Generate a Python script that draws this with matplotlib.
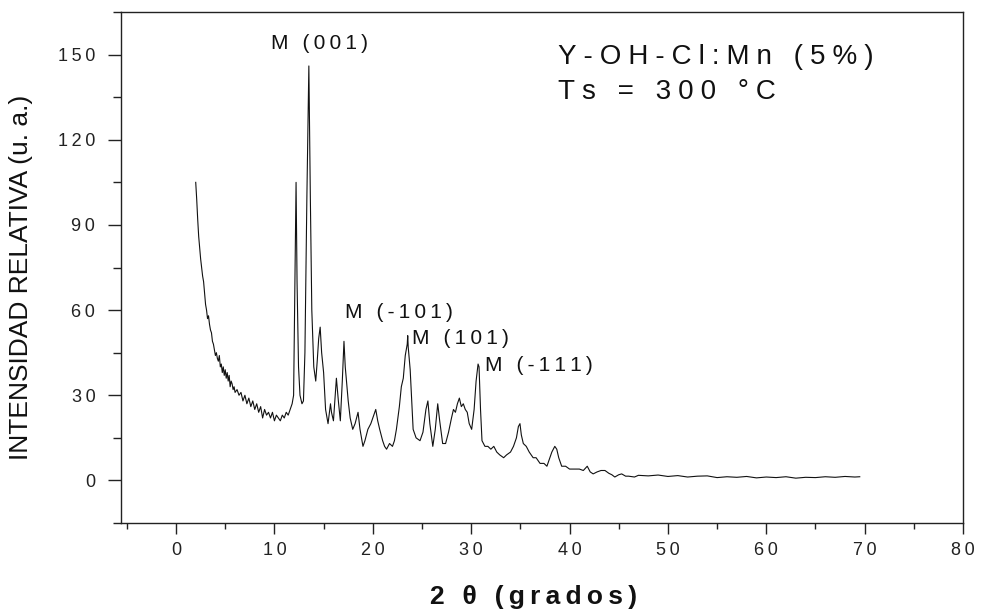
import numpy as np
import matplotlib
matplotlib.use("Agg")
import matplotlib.pyplot as plt
from matplotlib.ticker import MultipleLocator

# patrón de difracción: 2θ (grados) e intensidad relativa (u. a.)
two_theta = [
    2.0, 2.1, 2.2, 2.3, 2.4, 2.5, 2.6, 2.7, 2.8, 2.9, 3.0, 3.1, 3.2, 3.3, 3.4, 3.5,
    3.6, 3.7, 3.8, 3.9, 4.0, 4.1, 4.2, 4.3, 4.4, 4.5, 4.6, 4.7, 4.8, 4.9, 5.0, 5.1,
    5.2, 5.3, 5.4, 5.5, 5.6, 5.7, 5.8, 5.9, 6.0, 6.2, 6.4, 6.6, 6.8, 7.0, 7.2, 7.4,
    7.6, 7.8, 8.0, 8.2, 8.4, 8.6, 8.8, 9.0, 9.2, 9.4, 9.6, 9.8, 10.0, 10.2, 10.4,
    10.6, 10.8, 11.0, 11.2, 11.4, 11.6, 11.8, 11.95, 12.05, 12.2, 12.3, 12.45, 12.6,
    12.8, 12.95, 13.1, 13.3, 13.5, 13.65, 13.8, 14.0, 14.2, 14.35, 14.5, 14.65, 14.8,
    15.0, 15.2, 15.45, 15.7, 15.8, 16.0, 16.3, 16.5, 16.7, 16.9, 17.07, 17.2, 17.5,
    17.7, 17.96, 18.2, 18.5, 18.7, 19.0, 19.2, 19.5, 19.8, 20.1, 20.3, 20.5, 20.7,
    21.0, 21.2, 21.4, 21.7, 22.0, 22.2, 22.4, 22.7, 22.9, 23.1, 23.3, 23.5, 23.55,
    23.6, 23.8, 24.0, 24.1, 24.4, 24.8, 25.1, 25.4, 25.6, 25.8, 26.1, 26.35, 26.6,
    26.8, 27.1, 27.4, 27.7, 28.0, 28.2, 28.4, 28.6, 28.8, 29.0, 29.2, 29.4, 29.6,
    29.8, 30.05, 30.3, 30.5, 30.7, 30.8, 30.95, 31.1, 31.4, 31.7, 32.0, 32.3, 32.6,
    32.9, 33.3, 33.6, 34.0, 34.3, 34.6, 34.8, 34.96, 35.1, 35.3, 35.6, 35.9, 36.3,
    36.6, 37.0, 37.4, 37.7, 38.0, 38.2, 38.5, 38.7, 38.9, 39.2, 39.6, 40.0, 40.5,
    41.0, 41.4, 41.8, 42.1, 42.4, 42.8, 43.2, 43.6, 44.0, 44.3, 44.6, 45.0, 45.3,
    45.7, 46.0, 46.6, 47.0, 48.0, 49.0, 50.0, 51.0, 52.0, 53.0, 54.0, 55.0, 56.0,
    57.0, 58.0, 59.0, 60.0, 61.0, 62.0, 63.0, 64.0, 65.0, 66.0, 67.0, 68.0, 69.0, 69.5,
]
intensity = [
    105, 99, 92, 86, 82, 78, 75, 72, 70, 66, 62, 60, 57, 58, 55, 53,
    52, 49, 48, 46, 44, 45, 43, 42, 44, 40, 41, 38, 40, 37, 39, 36,
    38, 35, 37, 33, 35, 34, 32, 33, 31, 32, 30, 31, 28, 30, 27, 29,
    26, 28, 25, 27, 24, 26, 22, 25, 23, 24, 22, 24, 21, 23, 22,
    21, 23, 22, 24, 23, 25, 27, 30, 60, 105, 70, 40, 30,
    27, 28, 45, 100, 146, 100, 60, 40, 35, 42, 50, 54, 45,
    38, 25, 20, 27, 24, 21, 36, 28, 21, 35, 49, 40, 28,
    22, 18, 20, 24, 18, 12, 14, 18, 20, 23, 25, 21, 18,
    14, 12, 11, 13, 12, 14, 18, 26, 33, 36, 44, 48, 51,
    47, 39, 25, 18, 15, 14, 17, 25, 28, 20, 12, 18, 27,
    21, 13, 13, 17, 22, 25, 24, 27, 29, 26, 27, 25, 24,
    20, 18, 25, 35, 41, 40, 25, 14, 12, 12, 11, 12, 10,
    9, 8, 9, 10, 12, 15, 19, 20, 16, 13, 12, 10, 8,
    8, 6, 6, 5, 8, 10, 12, 11, 8, 5, 5, 4, 4,
    4, 3.5, 5, 3, 2.3, 3, 3.5, 3.5, 2.5, 2, 1.2, 2, 2.3,
    1.5, 1.5, 1.2, 1.8, 1.6, 1.9, 1.4, 1.7, 1.2, 1.5, 1.6, 1.0, 1.3,
    1.1, 1.4, 0.9, 1.2, 1.0, 1.3, 0.8, 1.1, 1.0, 1.3, 1.1, 1.4, 1.2, 1.3,
]

# etiquetas de reflexiones (texto, x izquierda, y centro)
peak_labels = ["M (001)", "M (-101)", "M (101)", "M (-111)"]
peak_x = [9.7, 17.2, 24.0, 31.4]
peak_y = [154, 59, 50, 40.5]

FONT = ["Liberation Sans", "DejaVu Sans"]


def sp(s, gap="\u2009"):
    # imita el espaciado ancho entre letras del original
    return gap.join(s)


fig = plt.figure(figsize=(9.81, 6.13), dpi=100, facecolor="white")
ax = fig.add_axes([0.1233, 0.1468, 0.8584, 0.8336])

ax.plot(two_theta, intensity, color="#111111", lw=0.8)

ax.set_xlim(-5.6, 80)
ax.set_ylim(-15, 165)
ax.xaxis.set_major_locator(MultipleLocator(10))
ax.xaxis.set_minor_locator(MultipleLocator(5))
ax.yaxis.set_major_locator(MultipleLocator(30))
ax.yaxis.set_minor_locator(MultipleLocator(15))
ax.tick_params(axis="x", which="major", direction="out", length=8, width=1, color="#222222", pad=6)
ax.tick_params(axis="x", which="minor", direction="out", length=4.5, width=1, color="#222222")
ax.tick_params(axis="y", which="major", direction="out", length=9.5, width=1, color="#222222", pad=9)
ax.tick_params(axis="y", which="minor", direction="out", length=6, width=1, color="#222222")
ax.tick_params(top=False, right=False)
for s in ax.spines.values():
    s.set_linewidth(1.0)
    s.set_color("#222222")

xt = list(range(0, 81, 10))
ax.set_xticks(xt)
ax.set_xticklabels([sp(str(v)) for v in xt], family=FONT, fontsize=13, color="#222222")
yt = list(range(0, 151, 30))
ax.set_yticks(yt)
ax.set_yticklabels([sp(str(v)) for v in yt], family=FONT, fontsize=13, color="#222222")

ax.set_xlabel(sp("2 θ (grados)"), family=FONT, fontsize=19, fontweight="bold", color="#111111")
ax.xaxis.set_label_coords(0.4905, -0.122)
ax.set_ylabel("INTENSIDAD RELATIVA (u. a.)", family=FONT, fontsize=19, color="#111111")
ax.yaxis.set_label_coords(-0.104, 0.48)

for t, x, y in zip(peak_labels, peak_x, peak_y):
    ax.text(x, y, sp(t), family=FONT, fontsize=15, ha="left", va="center", color="#111111")

ax.text(38.8, 149, sp("Y-OH-Cl:Mn (5%)", "\u2005"), family=FONT, fontsize=20, ha="left", va="center", color="#111111")
ax.text(38.8, 137, sp("Ts = 300 °C", "\u2005"), family=FONT, fontsize=20, ha="left", va="center", color="#111111")

fig.savefig("out.png", dpi=100, facecolor="white")
